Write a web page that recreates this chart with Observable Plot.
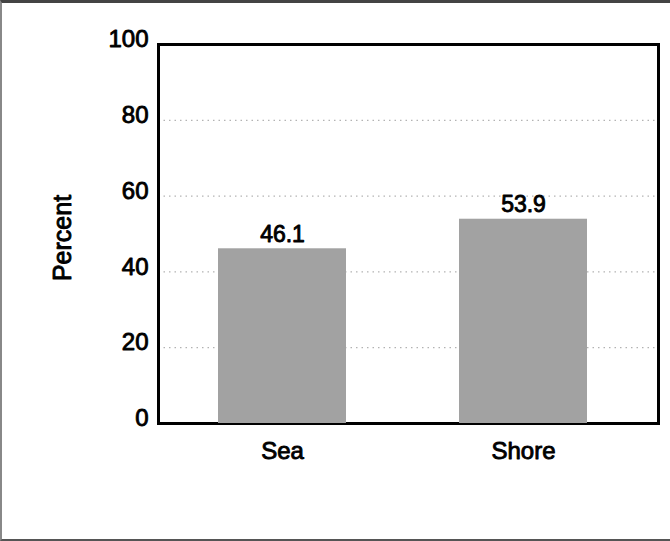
<!DOCTYPE html>
<html>
<head>
<meta charset="utf-8">
<script src="https://cdn.jsdelivr.net/npm/d3@7"></script>
<script src="https://cdn.jsdelivr.net/npm/@observablehq/plot@0.6"></script>
<style>
  html, body { margin: 0; padding: 0; background: #fff; }
  #frame {
    position: relative;
    width: 670px; height: 541px;
    box-sizing: border-box;
    border-top: 3px solid #444;
    border-left: 2px solid #888;
    border-bottom: 2px solid #555;
    overflow: hidden;
  }
  #chart { position: absolute; left: -2px; top: -3px; }
</style>
</head>
<body>
<div id="frame"><div id="chart"></div></div>
<script>
const categories = ["Sea", "Shore"];
const values = [46.1, 53.9];
const yTicks = [0, 20, 40, 60, 80, 100];
const gridTicks = [20, 40, 60, 80];
const yLabel = "Percent";

const data = categories.map((c, i) => ({category: c, value: values[i]}));

const heavy = {stroke: "#000", strokeWidth: 0.9};

const plot = Plot.plot({
  width: 670,
  height: 541,
  marginTop: 44,
  marginBottom: 118,
  marginLeft: 158,
  marginRight: 12,
  style: {fontFamily: "'Liberation Sans', Arial, sans-serif", color: "#000", background: "transparent"},
  x: {domain: categories, paddingInner: 0.47, paddingOuter: 0.27, align: 0.46},
  y: {domain: [0, 100]},
  marks: [
    Plot.ruleY(gridTicks, {stroke: "#a0a0a0", strokeWidth: 1, strokeDasharray: "1.5,4"}),
    Plot.frame({stroke: "#000", strokeWidth: 3}),
    Plot.barY(data, {x: "category", y: "value", fill: "#a2a2a2"}),
    Plot.text(data, {x: "category", y: "value", text: d => d.value.toFixed(1), lineAnchor: "bottom", dy: -7, fontSize: 23, fill: "#000", ...heavy}),
    Plot.axisY(yTicks, {tickSize: 0, tickPadding: 10, dy: -5, fontSize: 24, label: null, textStroke: "#000", textStrokeWidth: 0.9}),
    Plot.axisX({tickSize: 0, tickPadding: 18, fontSize: 24, label: null, textStroke: "#000", textStrokeWidth: 0.9}),
    Plot.text([yLabel], {frameAnchor: "left", textAnchor: "middle", dx: -96, dy: 4, rotate: -90, fontSize: 25, fill: "#000", ...heavy})
  ]
});
document.getElementById("chart").appendChild(plot);
</script>
</body>
</html>
